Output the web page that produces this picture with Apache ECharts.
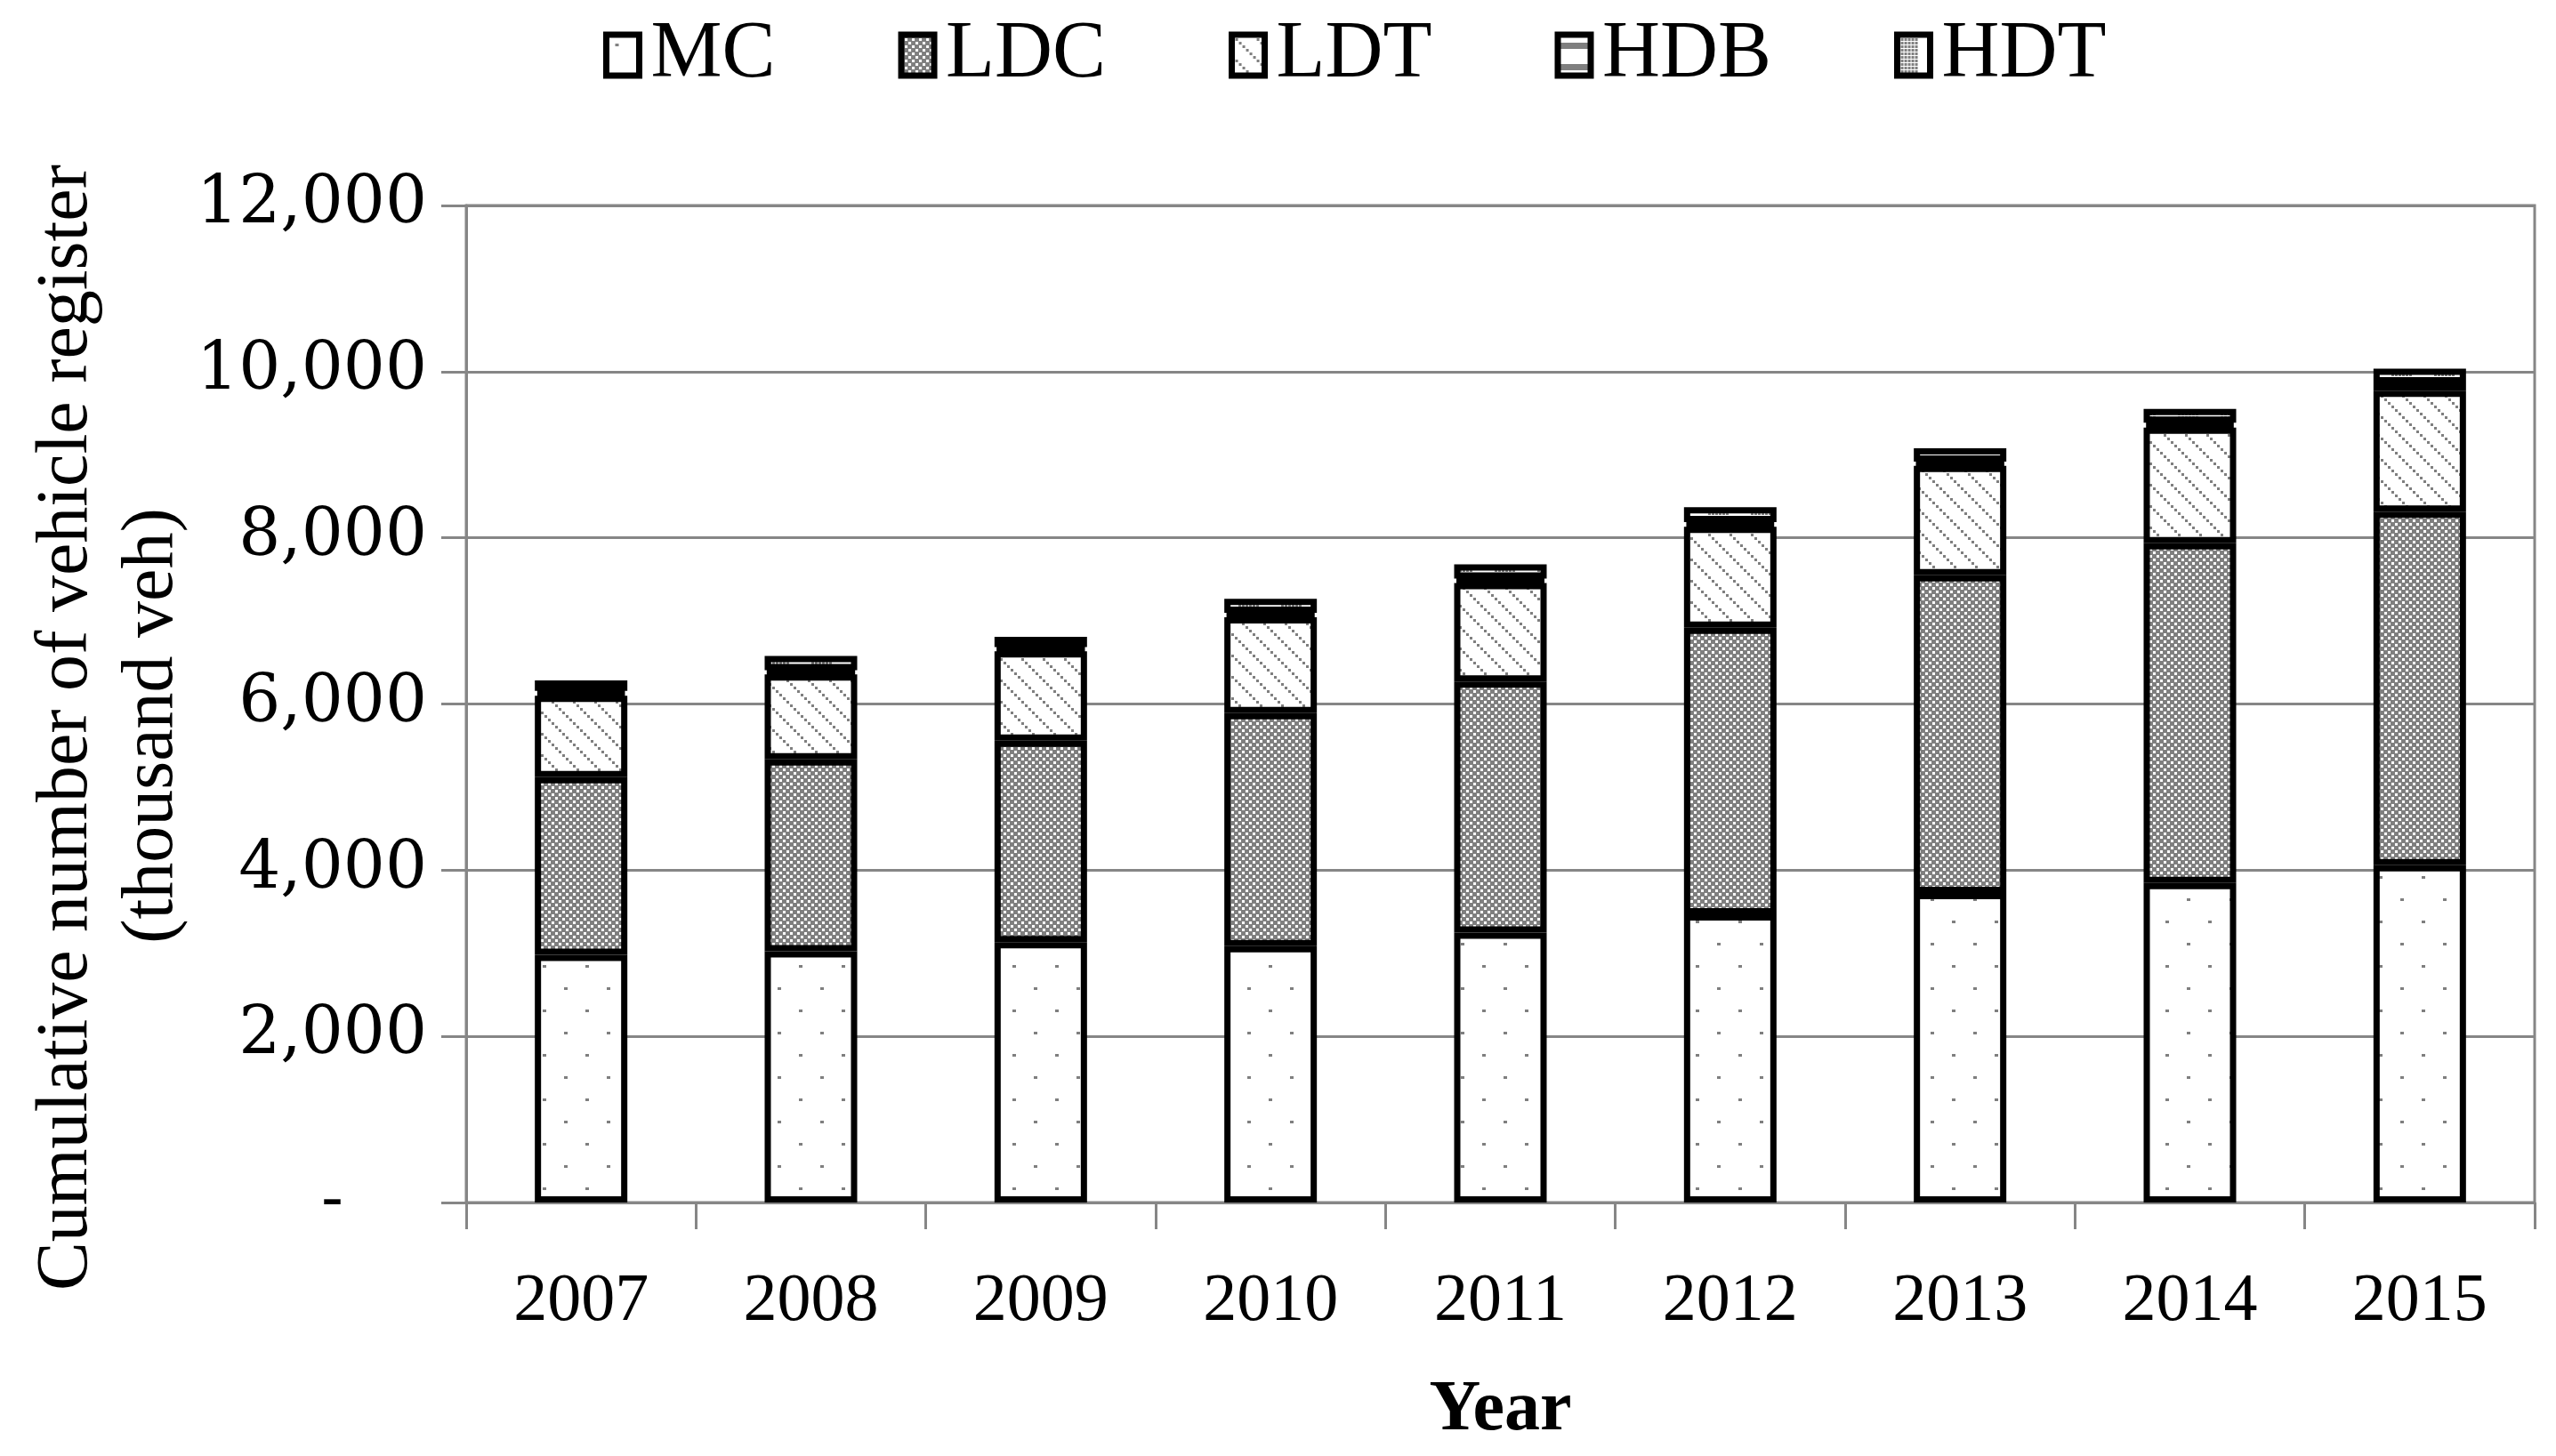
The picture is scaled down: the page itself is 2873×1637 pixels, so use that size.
<!DOCTYPE html>
<html>
<head>
<meta charset="utf-8">
<script src="https://cdn.jsdelivr.net/npm/echarts@6/dist/echarts.min.js"></script>
<style>
html,body{margin:0;padding:0;background:#fff;}
#chart{width:2873px;height:1637px;}
</style>
</head>
<body>
<div id="chart"></div>
<script>
// ---- data (thousand vehicles) ----
const years = ['2007','2008','2009','2010','2011','2012','2013','2014','2015'];
const seriesNames = ['MC','LDC','LDT','HDB','HDT'];
const mc  = [2980, 3024, 3133, 3085, 3250, 3468, 3724, 3847, 4061];
const ldc = [2140, 2310, 2426, 2806, 3021, 3449, 3825, 4088, 4255];
const ldt = [ 979, 1022, 1076, 1154, 1185, 1216, 1317, 1392, 1454];
const hdb = [  58,   50,   50,   52,   54,   56,   50,   58,   88];
const hdt = [ 126,  173,  122,  170,  170,  179,  161,  165,  177];
const yTickLabels = ['-    ', '2,000', '4,000', '6,000', '8,000', '10,000', '12,000'];
const yTitleLines = ['Cumulative number of vehicle register', '(thousand veh)'];

// ---- fill patterns ----
const GREY = '#7f7f7f';
function makePattern(w, h, draw) {
  const c = document.createElement('canvas');
  c.width = w; c.height = h;
  const g = c.getContext('2d');
  g.fillStyle = '#ffffff';
  g.fillRect(0, 0, w, h);
  g.fillStyle = GREY;
  draw(g);
  return { image: c, repeat: 'repeat' };
}
const patMC = makePattern(48, 50, g => {
  g.fillRect(10, 10, 4, 3);
  g.fillRect(34, 35, 4, 3);
});
const patLDC = makePattern(8, 8, g => {
  g.fillRect(0, 0, 8, 8);
  g.fillStyle = '#ffffff';
  g.fillRect(0, 0, 3, 3);
  g.fillRect(4, 4, 3, 3);
});
const patLDT = makePattern(24, 24, g => {
  for (let k = 0; k < 24; k += 4) {
    g.fillRect(k, k, 3, 3);
  }
});
const patHDB = makePattern(16, 24, g => {
  g.fillRect(0, 9, 16, 7);
});
const patHDT = makePattern(48, 8, g => {
  for (let x = 0; x < 22; x += 4) {
    for (let y = 0; y < 8; y += 4) {
      g.fillRect(x, y, 3, 3);
    }
  }
});
const patterns = [patMC, patLDC, patLDT, patHDB, patHDT];
const values = [mc, ldc, ldt, hdb, hdt];

const chart = echarts.init(document.getElementById('chart'), null, { renderer: 'canvas' });

const series = seriesNames.map((name, i) => ({
  name: name,
  type: 'bar',
  stack: 'total',
  barWidth: 104,
  data: values[i],
  itemStyle: { color: patterns[i], borderColor: '#000000', borderWidth: 7 },
  emphasis: { disabled: true },
  silent: true
}));

const titleFont = '82px "Liberation Serif"';

const option = {
  backgroundColor: '#ffffff',
  animation: false,
  legend: {
    left: 673,
    top: 12,
    itemWidth: 37,
    itemHeight: 46,
    itemGap: 138,
    icon: 'rect',
    selectedMode: false,
    data: seriesNames,
    itemStyle: { borderColor: '#000000', borderWidth: 7 },
    textStyle: {
      fontFamily: 'Liberation Serif',
      fontSize: 90,
      color: '#000',
      padding: [0, 0, 0, 8]
    }
  },
  graphic: [
    {
      type: 'text',
      x: 75, y: 818,
      rotation: Math.PI / 2,
      silent: true,
      style: { text: yTitleLines[0], font: titleFont, fill: '#000', align: 'center', verticalAlign: 'middle' }
    },
    {
      type: 'text',
      x: 171, y: 816,
      rotation: Math.PI / 2,
      silent: true,
      style: { text: yTitleLines[1], font: titleFont, fill: '#000', align: 'center', verticalAlign: 'middle' }
    }
  ],
  grid: {
    left: 524,
    right: 24,
    top: 231,
    bottom: 285,
    show: true,
    borderColor: '#868686',
    borderWidth: 3,
    containLabel: false
  },
  xAxis: {
    type: 'category',
    data: years,
    name: 'Year',
    nameLocation: 'middle',
    nameGap: 194,
    nameTextStyle: {
      fontFamily: 'Liberation Serif',
      fontWeight: 'bold',
      fontSize: 80,
      color: '#000'
    },
    axisLine: { show: true, lineStyle: { color: '#868686', width: 3 } },
    axisTick: { show: true, alignWithLabel: false, length: 30, lineStyle: { color: '#868686', width: 3 } },
    axisLabel: {
      margin: 74,
      fontFamily: 'Liberation Serif',
      fontSize: 76,
      color: '#000'
    }
  },
  yAxis: {
    type: 'value',
    min: 0,
    max: 12000,
    interval: 2000,
    axisLine: { show: true, lineStyle: { color: '#868686', width: 3 } },
    axisTick: { show: true, length: 28, lineStyle: { color: '#868686', width: 3 } },
    splitLine: { show: true, lineStyle: { color: '#868686', width: 3 } },
    axisLabel: {
      margin: 44,
      fontFamily: 'DejaVu Serif',
      fontSize: 74,
      color: '#000',
      formatter: function (v) { return yTickLabels[Math.round(v / 2000)]; }
    }
  },
  series: series
};
chart.setOption(option);
</script>
</body>
</html>
